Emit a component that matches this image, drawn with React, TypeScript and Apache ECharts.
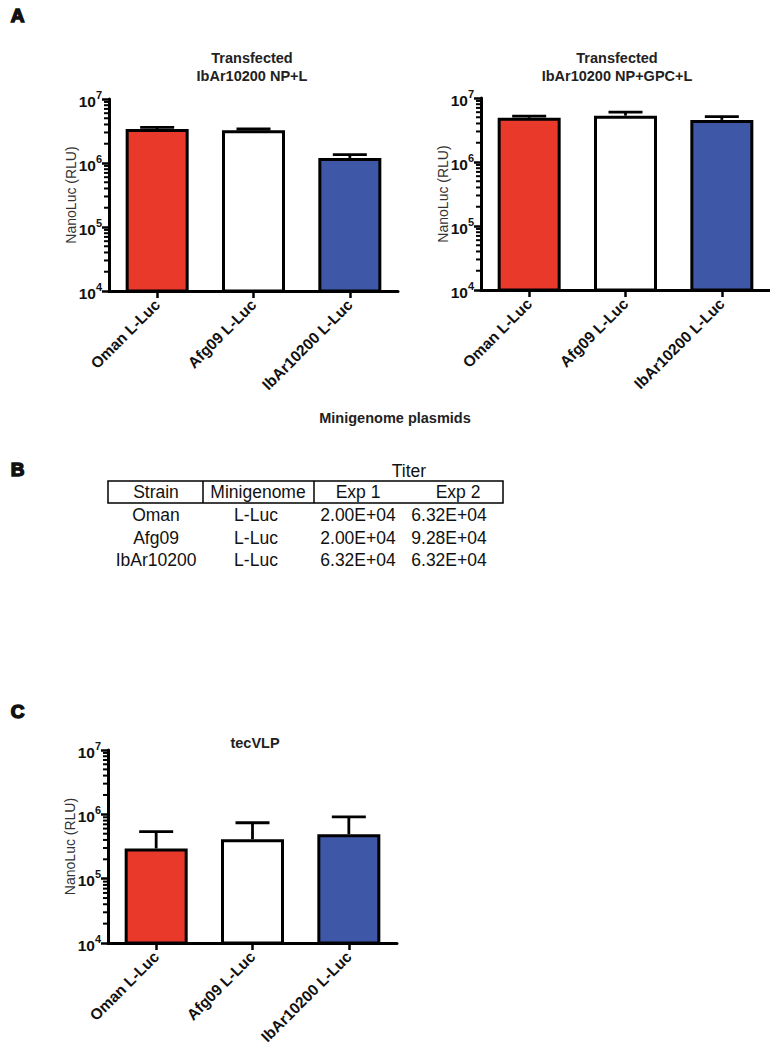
import React, { useEffect, useRef } from "react";
import * as echarts from "echarts";

// ---------- data ----------
const categories = ["Oman L-Luc", "Afg09 L-Luc", "IbAr10200 L-Luc"];
const barColors = ["#E8392A", "#FFFFFF", "#3E58A7"];

const npLMean = [3.4e6, 3.25e6, 1.2e6];
const npLUpper = [3.6e6, 3.4e6, 1.35e6];

const npGpcLMean = [4.9e6, 5.3e6, 4.55e6];
const npGpcLUpper = [5.2e6, 6.0e6, 5.1e6];

const vlpMean = [2.95e5, 4.1e5, 4.9e5];
const vlpUpper = [5.4e5, 7.4e5, 9.1e5];

const yMin = 1e4;
const yMax = 1e7;
const minorMultipliers = [2, 3, 4, 5, 6, 7, 8, 9];
const decadeStarts = [1e4, 1e5, 1e6];

const panelTitles = ["Transfected\nIbAr10200 NP+L", "Transfected\nIbAr10200 NP+GPC+L", "tecVLP"];
const yAxisName = "NanoLuc (RLU)";
const xAxisTitle = "Minigenome plasmids";
const panelLetters = ["A", "B", "C"];

const tableTitle = "Titer";
const tableHeader = ["Strain", "Minigenome", "Exp 1", "Exp 2"];
const tableStrain = ["Oman", "Afg09", "IbAr10200"];
const tableMinigenome = ["L-Luc", "L-Luc", "L-Luc"];
const tableExp1 = ["2.00E+04", "2.00E+04", "6.32E+04"];
const tableExp2 = ["6.32E+04", "9.28E+04", "6.32E+04"];

// ---------- layout / style ----------
const FONT = "'Liberation Sans', Arial, Helvetica, sans-serif";
const grids = [
  { left: 109, top: 99, width: 289, height: 192 },
  { left: 481, top: 98, width: 289, height: 192 },
  { left: 108, top: 750, width: 289, height: 193 },
];
const titlePos = [
  { x: 252, y: 67 },
  { x: 617, y: 67 },
  { x: 255, y: 743 },
];

const minorTickValues = decadeStarts.flatMap((d) => minorMultipliers.map((m) => m * d));

function App() {
  const ref = useRef<HTMLDivElement>(null);

  useEffect(() => {
    if (!ref.current) return;
    const chart = echarts.init(ref.current, undefined, { renderer: "svg" });

    const panels = [
      { mean: npLMean, upper: npLUpper },
      { mean: npGpcLMean, upper: npGpcLUpper },
      { mean: vlpMean, upper: vlpUpper },
    ];

    const xAxes = grids.map((_, gi) => ({
      type: "category",
      gridIndex: gi,
      data: categories,
      boundaryGap: true,
      axisLine: { show: true, lineStyle: { color: "#000", width: 3 } },
      axisTick: { show: true, alignWithLabel: true, length: 7, lineStyle: { color: "#000", width: 2.5 } },
      axisLabel: {
        rotate: 45,
        interval: 0,
        margin: 11,
        fontFamily: FONT,
        fontWeight: "bold",
        fontSize: 15.5,
        color: "#111",
      },
      splitLine: { show: false },
    }));

    const yAxes = grids.map((_, gi) => ({
      type: "log",
      logBase: 10,
      gridIndex: gi,
      min: yMin,
      max: yMax,
      name: yAxisName,
      nameLocation: "middle",
      nameGap: 31,
      nameMoveOverlap: false,
      nameRotate: 90,
      nameTextStyle: { fontFamily: FONT, fontSize: 14, color: "#333" },
      axisLine: { show: true, lineStyle: { color: "#000", width: 3 } },
      axisTick: { show: true, length: 7, lineStyle: { color: "#000", width: 2.5 } },
      splitLine: { show: false },
      minorTick: { show: false },
      axisLabel: {
        margin: 7,
        formatter: (v: number) => `{b|10}{s|${Math.round(Math.log10(v))}}`,
        rich: {
          b: { fontFamily: FONT, fontSize: 15.5, fontWeight: "bold", color: "#111", lineHeight: 20, verticalAlign: "bottom" },
          s: { fontFamily: FONT, fontSize: 11, fontWeight: "bold", color: "#111", lineHeight: 11, verticalAlign: "top" },
        },
      },
    }));

    const series: any[] = [];
    panels.forEach((p, gi) => {
      series.push({
        type: "custom",
        xAxisIndex: gi,
        yAxisIndex: gi,
        silent: true,
        z: 1,
        data: p.mean.map((m, i) => [i, m, p.upper[i]]),
        renderItem: (params: any, api: any) => {
          const p0 = api.coord([api.value(0), api.value(1)]);
          const p1 = api.coord([api.value(0), api.value(2)]);
          return {
            type: "group",
            children: [
              { type: "line", shape: { x1: p0[0], y1: p0[1], x2: p0[0], y2: p1[1] }, style: { stroke: "#000", lineWidth: 2.8 } },
              { type: "line", shape: { x1: p0[0] - 17, y1: p1[1], x2: p0[0] + 17, y2: p1[1] }, style: { stroke: "#000", lineWidth: 2.8 } },
            ],
          };
        },
      });
      series.push({
        type: "bar",
        xAxisIndex: gi,
        yAxisIndex: gi,
        barWidth: 63,
        z: 2,
        itemStyle: { borderColor: "#000", borderWidth: 3 },
        data: p.mean.map((v, i) => ({ value: v, itemStyle: { color: barColors[i], borderColor: "#000", borderWidth: 3 } })),
      });
      series.push({
        type: "custom",
        xAxisIndex: gi,
        yAxisIndex: gi,
        silent: true,
        z: 3,
        data: minorTickValues.map((v) => [0, v]),
        renderItem: (params: any, api: any) => {
          const y = api.coord([0, api.value(1)])[1];
          const x = params.coordSys.x;
          return { type: "line", shape: { x1: x - 5, y1: y, x2: x, y2: y }, style: { stroke: "#000", lineWidth: 2 } };
        },
      });
    });

    const graphics: any[] = [];
    // panel titles
    panelTitles.forEach((t, i) => {
      graphics.push({
        type: "text",
        x: titlePos[i].x,
        y: titlePos[i].y,
        style: { text: t, align: "center", verticalAlign: "middle", fontFamily: FONT, fontSize: 14.5, fontWeight: "bold", lineHeight: 17.5, fill: "#222" },
      });
    });
    graphics.push({
      type: "text",
      x: 395,
      y: 418,
      style: { text: xAxisTitle, align: "center", verticalAlign: "middle", fontFamily: FONT, fontSize: 14.5, fontWeight: "bold", fill: "#222" },
    });
    // panel letters
    const letterY = [15, 469, 711];
    panelLetters.forEach((l, i) => {
      graphics.push({
        type: "text",
        x: 17.5,
        y: letterY[i],
        style: { text: l, align: "center", verticalAlign: "middle", fontFamily: FONT, fontSize: 19, fontWeight: 900, fill: "#111", stroke: "#111", lineWidth: 1.5 },
      });
    });
    // table B
    graphics.push({ type: "rect", shape: { x: 108, y: 481, width: 395, height: 22 }, style: { fill: "none", stroke: "#000", lineWidth: 1.5 } });
    [203, 314].forEach((x) => {
      graphics.push({ type: "line", shape: { x1: x, y1: 481, x2: x, y2: 503 }, style: { stroke: "#000", lineWidth: 1.5 } });
    });
    const tStyle = (text: string) => ({ text, align: "center", verticalAlign: "middle", fontFamily: FONT, fontSize: 17.5, fill: "#111" });
    graphics.push({ type: "text", x: 409, y: 471, style: tStyle(tableTitle) });
    const headerX = [156, 258, 358, 458];
    tableHeader.forEach((h, i) => graphics.push({ type: "text", x: headerX[i], y: 492, style: tStyle(h) }));
    const colX = [156, 256, 358, 449];
    const rowY = [515, 538, 560];
    tableStrain.forEach((s, r) => {
      const row = [s, tableMinigenome[r], tableExp1[r], tableExp2[r]];
      row.forEach((c, ci) => graphics.push({ type: "text", x: colX[ci], y: rowY[r], style: tStyle(c) }));
    });

    chart.setOption({
      animation: false,
      backgroundColor: "#fff",
      grid: grids.map((g) => ({ ...g, containLabel: false })),
      xAxis: xAxes,
      yAxis: yAxes,
      series,
      graphic: graphics,
    });

    return () => chart.dispose();
  }, []);

  return <div ref={ref} style={{ position: "absolute", left: 0, top: 0, width: 770, height: 1049, background: "#fff" }} />;
}

export default App;
